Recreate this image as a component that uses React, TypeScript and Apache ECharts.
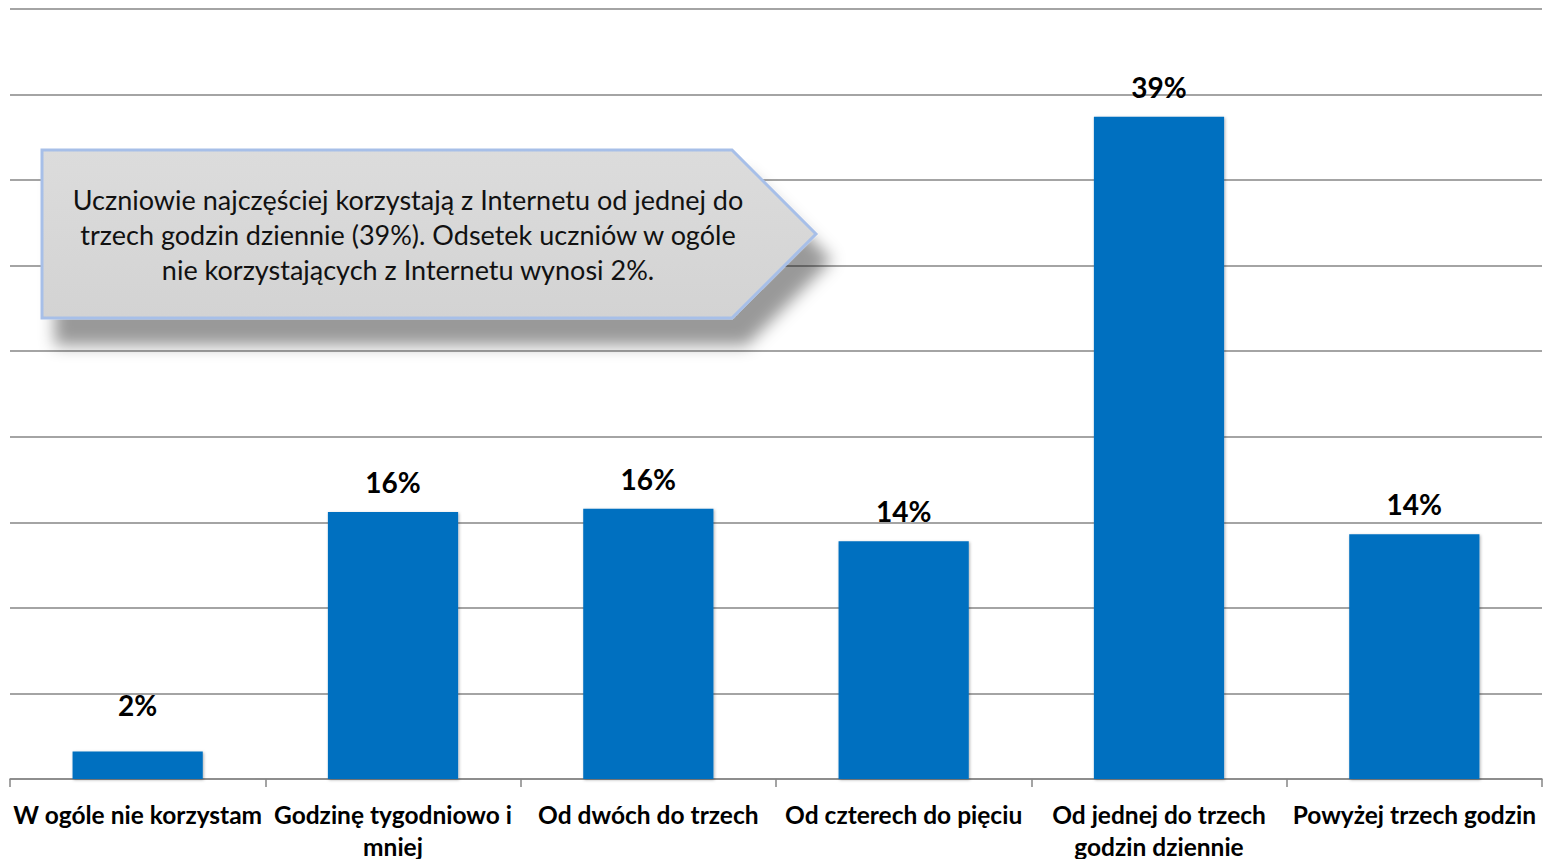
import React, { useEffect, useRef } from "react";
import * as echarts from "echarts";

const categories = [
  "W ogóle nie korzystam",
  "Godzinę tygodniowo i\nmniej",
  "Od dwóch do trzech",
  "Od czterech do pięciu",
  "Od jednej do trzech\ngodzin dziennie",
  "Powyżej trzech godzin",
];
const values = [1.6, 15.6, 15.8, 13.9, 38.7, 14.3];
const labelTexts = ["2%", "16%", "16%", "14%", "39%", "14%"];
const calloutText =
  "Uczniowie najczęściej korzystają z Internetu od jednej do\ntrzech godzin dziennie (39%). Odsetek uczniów w ogóle\nnie korzystających z Internetu wynosi 2%.";

export default function App() {
  const ref = useRef<HTMLDivElement>(null);
  useEffect(() => {
    if (!ref.current) return;
    const chart = echarts.init(ref.current, null, { renderer: "svg" });
    chart.setOption({
      animation: false,
      backgroundColor: "#ffffff",
      grid: {
        left: 10,
        right: 3,
        top: 9,
        bottom: 80,
        containLabel: false,
        outerBoundsMode: "none",
      },
      xAxis: {
        type: "category",
        data: categories,
        axisLine: { lineStyle: { color: "#868686", width: 1.5 } },
        axisTick: { show: true, length: 8, lineStyle: { color: "#868686", width: 1.5 } },
        axisLabel: {
          interval: 0,
          margin: 19,
          color: "#000000",
          fontFamily: "Lato",
          fontWeight: "bold",
          fontSize: 24.5,
          lineHeight: 32,
        },
      },
      yAxis: {
        type: "value",
        min: 0,
        max: 45,
        interval: 5,
        axisLabel: { show: false },
        axisLine: { show: false },
        axisTick: { show: false },
        splitLine: { lineStyle: { color: "#868686", width: 1.5 } },
      },
      series: [
        {
          type: "bar",
          barCategoryGap: "49%",
          data: values.map((v, i) => ({
            value: v,
            label: { distance: i === 0 ? 33 : 16 },
          })),
          itemStyle: {
            color: "#0070C0",
            shadowColor: "rgba(0,0,0,0.3)",
            shadowBlur: 3,
            shadowOffsetX: 1,
            shadowOffsetY: 1,
          },
          label: {
            show: true,
            position: "top",
            color: "#000000",
            fontFamily: "Lato",
            fontWeight: "bold",
            fontSize: 28,
            formatter: (p: any) => labelTexts[p.dataIndex],
          },
        },
      ],
      graphic: [
        {
          type: "polygon",
          z: 100,
          shape: {
            points: [
              [42, 150],
              [732, 150],
              [816, 234],
              [732, 318],
              [42, 318],
            ],
          },
          style: {
            fill: new echarts.graphic.LinearGradient(0, 0, 0, 1, [
              { offset: 0, color: "#dcdcdc" },
              { offset: 1, color: "#d3d3d3" },
            ]),
            stroke: "#a7bfe8",
            lineWidth: 3,
            shadowColor: "rgba(0,0,0,0.4)",
            shadowBlur: 16,
            shadowOffsetX: 14,
            shadowOffsetY: 26,
          },
        },
        {
          type: "text",
          z: 101,
          x: 408,
          y: 234,
          style: {
            text: calloutText,
            fill: "#111111",
            fontFamily: "Lato",
            fontSize: 27,
            lineHeight: 35,
            align: "center",
            verticalAlign: "middle",
          },
        },
      ],
    });
    return () => chart.dispose();
  }, []);
  return (
    <div
      ref={ref}
      style={{ position: "fixed", left: 0, top: 0, width: 1545, height: 859 }}
    />
  );
}
